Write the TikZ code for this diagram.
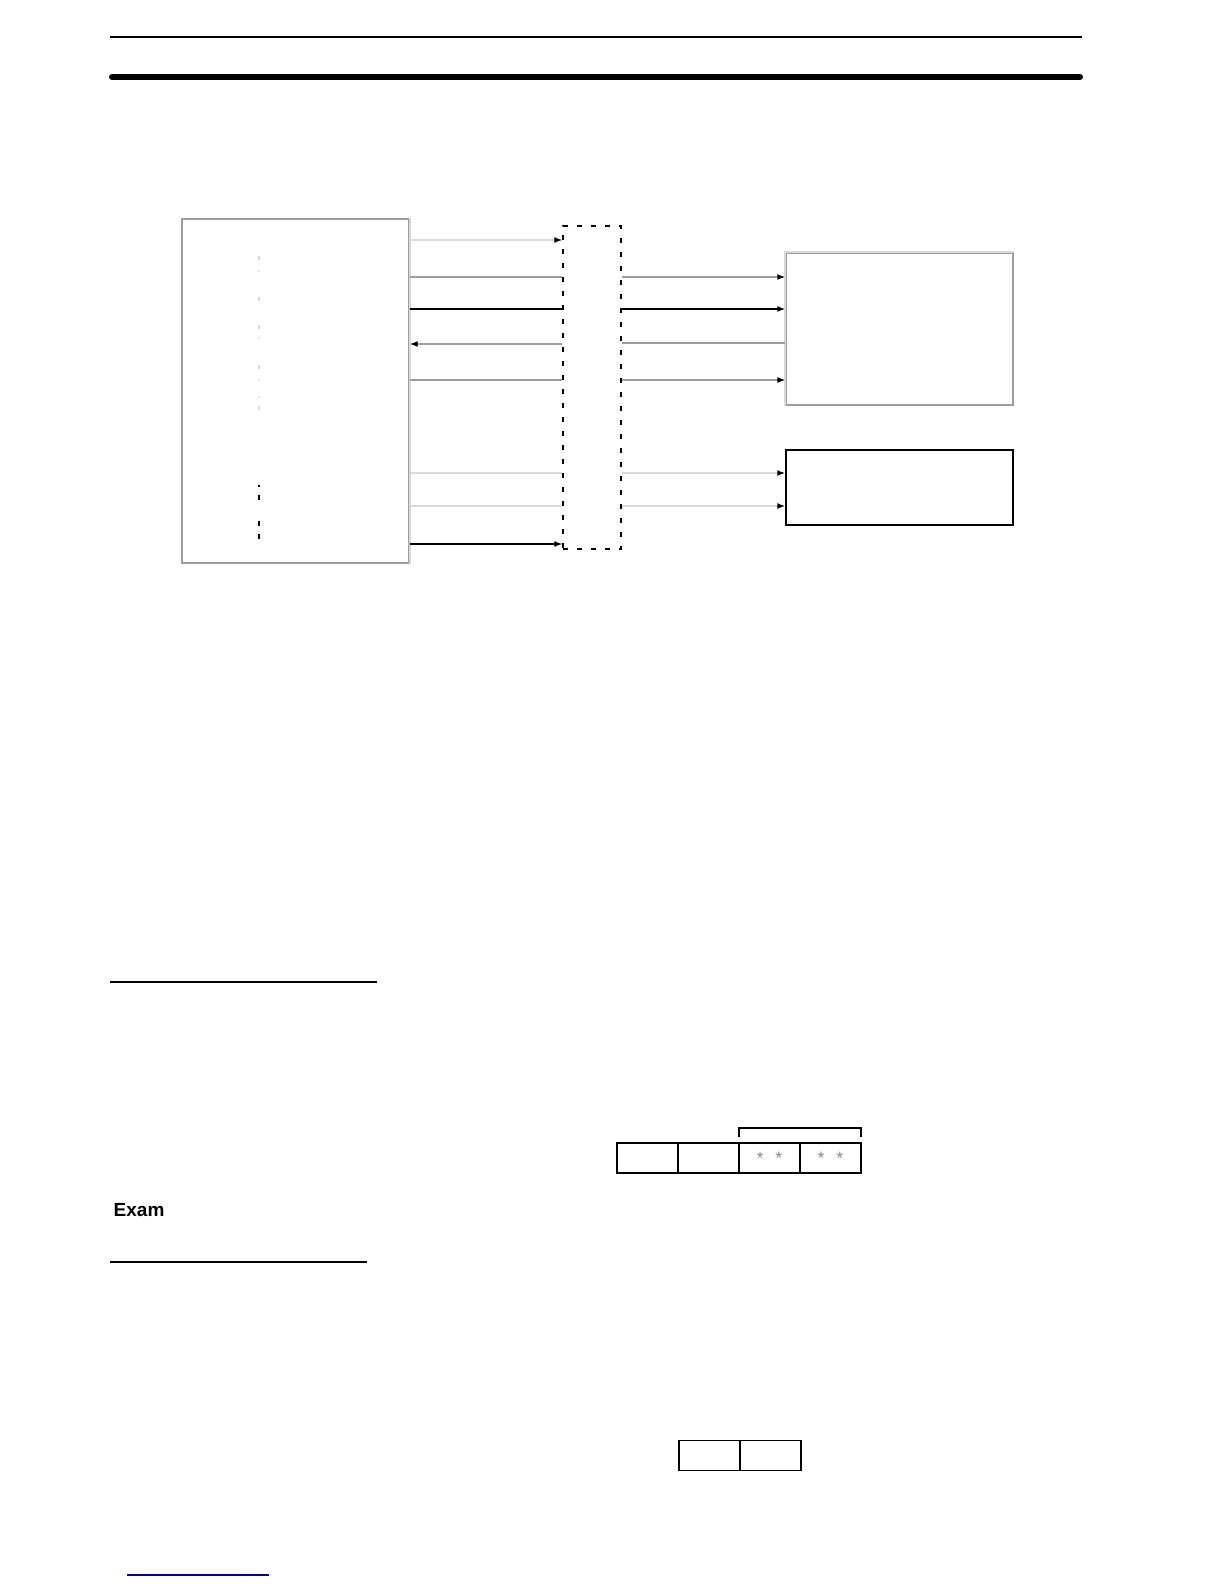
\documentclass[tikz,border=0pt]{standalone}
\usepackage{fontspec}
\setmainfont{Liberation Sans}
\usepackage{tikz}
\usetikzlibrary{arrows.meta,positioning}

\begin{document}
\begin{tikzpicture}[x=0.5pt, y=-0.5pt, line width=0.7pt,
    >={Latex[length=4pt,width=3pt,color=black]},
    lightline/.style={draw=black!15, line width=1pt},
    midline/.style={draw=black!38},
    darkline/.style={draw=black},
    cell/.style={draw, line width=0.8pt, minimum width=30.5pt, minimum height=15pt, inner sep=0pt, outer sep=0pt, text=black!45, font=\small}]

    \useasboundingbox (0,0) rectangle (1224,1584);

    % page rules
    \draw[line width=1pt] (110,37) -- (1082,37);
    \draw[line width=3pt, line cap=round] (112,77) -- (1080,77);

    % the four blocks
    \node[draw=black!38, minimum width=113.5pt, minimum height=172pt, inner sep=0pt] (plc) at (295.5,391) {};
    \draw[lightline] (plc.north east) -- (plc.south east);
    \node[draw, dash pattern=on 2.5pt off 4.5pt, line width=0.55pt, minimum width=29pt, minimum height=161.5pt, inner sep=0pt] (bus) at (592,387.5) {};
    \node[draw=black!38, minimum width=113.5pt, minimum height=76pt, inner sep=0pt] (unit) at (899.5,329) {};
    \draw[lightline] (unit.south west) -- (unit.north west) -- (unit.north east);
    \node[draw, minimum width=113.5pt, minimum height=37.5pt, inner sep=0pt] (sub) at (899.5,487.5) {};

    % ticks inside the left block
    \foreach \y in {258,299,327,367,408}
      \draw[draw=black!15, line width=1pt] (259,\y-2) -- (259,\y+2);
    \foreach \y in {271,338,380,397}
      \draw[draw=black!10, line width=0.6pt] (259,\y-1) -- (259,\y+1);
    \draw[line width=0.6pt] (259,485) -- (259,487);
    \foreach \y in {497,523,536}
      \draw[line width=0.6pt] (259,\y-2.5) -- (259,\y+2.5);

    % left block to bus
    \draw[lightline, ->] (plc.east |- 0,240) -- (bus.west |- 0,240);
    \draw[midline] (plc.east |- 0,277) -- (bus.west |- 0,277);
    \draw[darkline] (plc.east |- 0,309) -- (bus.west |- 0,309);
    \draw[midline, <-] (plc.east |- 0,344) -- (bus.west |- 0,344);
    \draw[midline] (plc.east |- 0,380) -- (bus.west |- 0,380);
    \draw[lightline] (plc.east |- 0,473) -- (bus.west |- 0,473);
    \draw[lightline] (plc.east |- 0,506) -- (bus.west |- 0,506);
    \draw[darkline, ->] (plc.east |- 0,544) -- (bus.west |- 0,544);

    % bus to the right blocks
    \draw[midline, ->] (bus.east |- 0,277) -- (unit.west |- 0,277);
    \draw[darkline, ->] (bus.east |- 0,309) -- (unit.west |- 0,309);
    \draw[midline] (bus.east |- 0,343) -- (unit.west |- 0,343);
    \draw[midline, ->] (bus.east |- 0,380) -- (unit.west |- 0,380);
    \draw[lightline, ->] (bus.east |- 0,473) -- (sub.west |- 0,473);
    \draw[lightline, ->] (bus.east |- 0,506) -- (sub.west |- 0,506);

    % section rules and heading
    \draw (110,982) -- (377,982);
    \node[anchor=base west, inner sep=0pt, font=\fontsize{9.5}{11}\bfseries] (exam) at (113,1216) {Exam};
    \draw (110,1262) -- (367,1262);

    % first word layout
    \node[cell] (c1) at (647.5,1158) {};
    \node[cell, right=0pt of c1] (c2) {};
    \node[cell, right=0pt of c2] (c3) {*\hspace{6pt}*};
    \node[cell, right=0pt of c3] (c4) {*\hspace{6pt}*};
    \draw[line width=0.8pt] ([yshift=3pt]c3.north west) -- ([yshift=7.5pt]c3.north west)
        -- ([yshift=7.5pt]c4.north east) -- ([yshift=3pt]c4.north east);

    % second word layout
    \node[cell] (d1) at (709.5,1455.5) {};
    \node[cell, right=0pt of d1] (d2) {};

    % footer link
    \draw[draw=blue!60!black, line width=0.8pt] (127,1575) -- (269,1575);

\end{tikzpicture}
\end{document}
